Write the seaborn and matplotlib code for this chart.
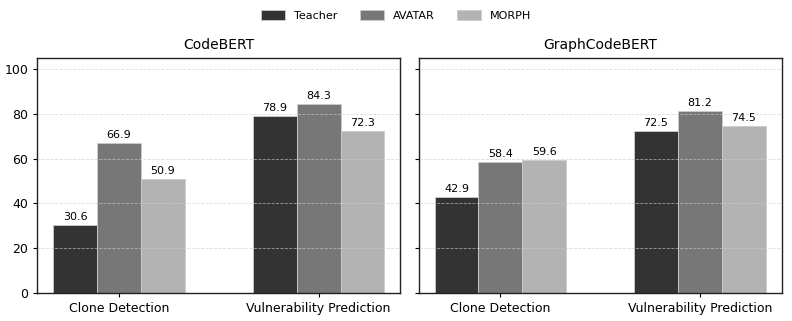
import matplotlib
matplotlib.use("Agg")
import matplotlib.pyplot as plt
import numpy as np
import pandas as pd
import seaborn as sns

tasks = ["Clone Detection", "Vulnerability Prediction"]
methods = ["Teacher", "AVATAR", "MORPH"]
models = ["CodeBERT", "GraphCodeBERT"]
codebert = {"Teacher": [30.6, 78.9], "AVATAR": [66.9, 84.3], "MORPH": [50.9, 72.3]}
graphcodebert = {"Teacher": [42.9, 72.5], "AVATAR": [58.4, 81.2], "MORPH": [59.6, 74.5]}
colors = ["#333333", "#777777", "#b3b3b3"]

rows = []
for model, scores in zip(models, [codebert, graphcodebert]):
    for m in methods:
        for t, v in zip(tasks, scores[m]):
            rows.append({"model": model, "method": m, "task": t, "score": v})
df = pd.DataFrame(rows)

sns.set_style("white")
plt.rcParams["font.family"] = ["DejaVu Sans"]
plt.rcParams["text.color"] = "black"
plt.rcParams["xtick.color"] = "black"
plt.rcParams["ytick.color"] = "black"

fig, axes = plt.subplots(1, 2, figsize=(7.92, 3.21), dpi=100, sharey=True)
for ax, model in zip(axes, models):
    sub = df[df["model"] == model]
    sns.barplot(data=sub, x="task", y="score", hue="method", order=tasks,
                hue_order=methods, palette=colors, width=0.66, ax=ax,
                edgecolor="#cccccc", linewidth=0.6, legend=(ax is axes[0]))
    for cont in ax.containers:
        ax.bar_label(cont, fmt="%.1f", padding=2, fontsize=8, color="black")
    ax.set_title(model, fontsize=10, color="black")
    ax.set_xlabel("")
    ax.set_ylabel("")
    ax.set_ylim(0, 105)
    ax.set_xlim(-0.41, 1.41)
    ax.set_axisbelow(False)
    ax.grid(axis="y", linestyle="--", linewidth=0.6, color="#cccccc", alpha=0.7)
    ax.tick_params(axis="x", labelsize=9, length=3, bottom=True)
    ax.tick_params(axis="y", labelsize=9, length=3, left=True)
    for s in ax.spines.values():
        s.set_color("#222222")
        s.set_linewidth(1.0)

handles, labels = axes[0].get_legend_handles_labels()
axes[0].get_legend().remove()
fig.legend(handles, labels, loc="upper center", ncol=3, frameon=False,
           fontsize=8, bbox_to_anchor=(0.5, 1.0), handlelength=2.2,
           handleheight=1.0, columnspacing=2.0)
fig.subplots_adjust(left=0.047, right=0.987, top=0.82, bottom=0.087, wspace=0.05)
fig.savefig("out.png", dpi=100)
